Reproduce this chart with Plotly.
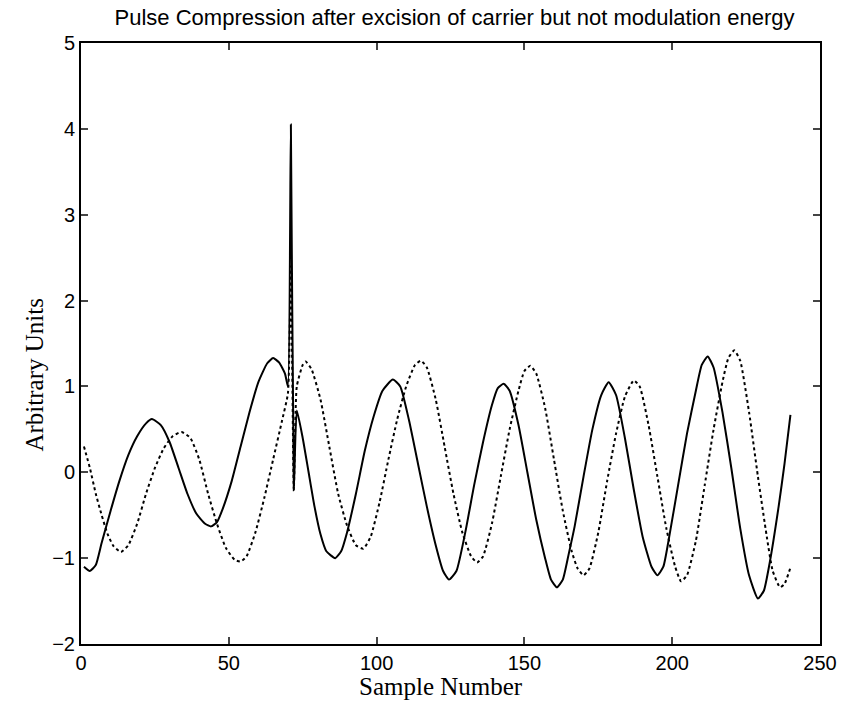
import plotly.graph_objects as go

# Solid trace (sample number, value)
solid_x = [1, 3, 5, 7, 10, 13, 16, 19, 22, 24, 27, 30, 33, 36, 39, 42, 44, 46, 48, 51,
           54, 57, 60, 63, 65, 67, 69, 70, 71, 72, 73, 75, 77, 79, 81, 83, 86, 88, 90, 93,
           96, 99, 102, 105.5, 108, 111, 114, 117, 120, 122.5, 124.5, 127, 130, 133, 136, 139, 141, 143, 145, 148,
           151, 154, 157, 159, 161, 163, 165, 167, 170, 173, 176, 178.5, 181, 184, 187, 190, 193, 195, 197, 199,
           202, 205, 208, 210, 212, 214, 217, 220, 223, 226, 229, 231, 233, 236, 238, 240]
solid_y = [-1.10, -1.15, -1.08, -0.82, -0.45, -0.10, 0.20, 0.42, 0.57, 0.62, 0.55, 0.35, 0.05, -0.25, -0.48, -0.60, -0.63, -0.58, -0.42, -0.10,
           0.30, 0.70, 1.05, 1.27, 1.33, 1.28, 1.15, 1.00, 4.05, -0.21, 0.72, 0.40, 0.00, -0.40, -0.72, -0.92, -1.00, -0.92, -0.70, -0.25,
           0.25, 0.65, 0.95, 1.08, 1.00, 0.60, 0.10, -0.40, -0.85, -1.15, -1.25, -1.15, -0.70, -0.15, 0.35, 0.78, 0.98, 1.03, 0.95, 0.55,
           0.00, -0.55, -1.00, -1.25, -1.34, -1.25, -0.95, -0.63, -0.05, 0.50, 0.90, 1.05, 0.90, 0.40, -0.20, -0.75, -1.10, -1.20, -1.10, -0.75,
           -0.15, 0.45, 0.95, 1.25, 1.35, 1.22, 0.70, 0.05, -0.65, -1.20, -1.47, -1.38, -1.05, -0.40, 0.10, 0.67]

# Dotted trace
dotted_x = [1, 3, 5, 7, 9, 11, 13.5, 16, 19, 22, 25, 28, 31, 34, 37, 40, 43, 46, 49, 52,
            54, 56, 59, 62, 65, 68, 70, 71, 72, 73, 75, 76, 78, 81, 84, 87, 90, 93, 95.5, 98,
            101, 104, 107, 110, 113, 115, 117, 120, 123, 126, 129, 132, 134, 136, 139, 142, 145, 148, 150, 152,
            154, 157, 160, 163, 166, 168, 170, 172, 175, 178, 181, 184, 187, 189, 192, 195, 198, 201, 203, 205,
            208, 211, 214, 217, 219, 221, 223, 226, 229, 232, 234, 236.5, 238, 240]
dotted_y = [0.30, 0.05, -0.25, -0.50, -0.72, -0.86, -0.93, -0.85, -0.60, -0.25, 0.05, 0.28, 0.42, 0.47, 0.40, 0.15, -0.25, -0.60, -0.88, -1.02,
            -1.04, -0.98, -0.70, -0.30, 0.15, 0.60, 0.92, 2.40, -0.20, 1.00, 1.25, 1.29, 1.20, 0.85, 0.30, -0.25, -0.62, -0.85, -0.89, -0.75,
            -0.35, 0.15, 0.62, 1.00, 1.25, 1.30, 1.22, 0.85, 0.30, -0.25, -0.70, -0.98, -1.05, -0.98, -0.60, -0.05, 0.50, 0.95, 1.18, 1.24,
            1.15, 0.75, 0.15, -0.45, -0.92, -1.12, -1.20, -1.12, -0.70, -0.10, 0.45, 0.88, 1.07, 1.00, 0.55, -0.05, -0.65, -1.10, -1.27, -1.20,
            -0.80, -0.15, 0.50, 1.05, 1.33, 1.42, 1.30, 0.70, -0.05, -0.75, -1.15, -1.34, -1.30, -1.11]

x_ticks = [0, 50, 100, 150, 200, 250]
y_ticks = [-2, -1, 0, 1, 2, 3, 4, 5]

title_text = "Pulse Compression after excision of carrier but not modulation energy"
x_title = "Sample Number"
y_title = "Arbitrary Units"

fig = go.Figure()
fig.add_trace(go.Scatter(x=dotted_x, y=dotted_y, mode="lines",
                         line=dict(color="black", width=2, dash="dot", shape="spline", smoothing=0.5),
                         showlegend=False))
fig.add_trace(go.Scatter(x=solid_x, y=solid_y, mode="lines",
                         line=dict(color="black", width=2, shape="spline", smoothing=0.5),
                         showlegend=False))

W, H = 849, 702
L, R, T, B = 81, 21, 43, 58
PW, PH = W - L - R, H - T - B
fig.update_layout(
    width=W, height=H,
    margin=dict(l=L, r=R, t=T, b=B, pad=0),
    plot_bgcolor="white", paper_bgcolor="white",
    font=dict(family="Liberation Sans, Arial", color="black", size=20),
    title=dict(text=title_text, x=(L + PW / 2) / W, xanchor="center",
               y=1 - 17 / H, yanchor="middle",
               font=dict(family="Liberation Sans, Arial", size=22, color="black")),
    xaxis=dict(range=[0, 250], tickvals=x_ticks, ticks="inside", ticklen=7, tickwidth=1.5,
               showline=True, linecolor="black", linewidth=2, mirror="ticks",
               showgrid=False, zeroline=False, tickfont=dict(size=20)),
    yaxis=dict(range=[-2, 5], tickvals=y_ticks, ticks="inside", ticklen=7, tickwidth=1.5,
               showline=True, linecolor="black", linewidth=2, mirror="ticks",
               showgrid=False, zeroline=False, tickfont=dict(size=20)),
    annotations=[
        dict(text=x_title, xref="paper", yref="paper", x=(445 - L) / PW, y=-(686 - (H - B)) / PH,
             xanchor="center", yanchor="middle", showarrow=False,
             font=dict(family="Liberation Serif, Times New Roman", size=25, color="black")),
        dict(text=y_title, xref="paper", yref="paper", x=-(L - 33) / PW, y=((H - B) - 375) / PH,
             xanchor="center", yanchor="middle", textangle=-90, showarrow=False,
             font=dict(family="Liberation Serif, Times New Roman", size=25, color="black")),
    ],
)

fig.write_html("out.html")
